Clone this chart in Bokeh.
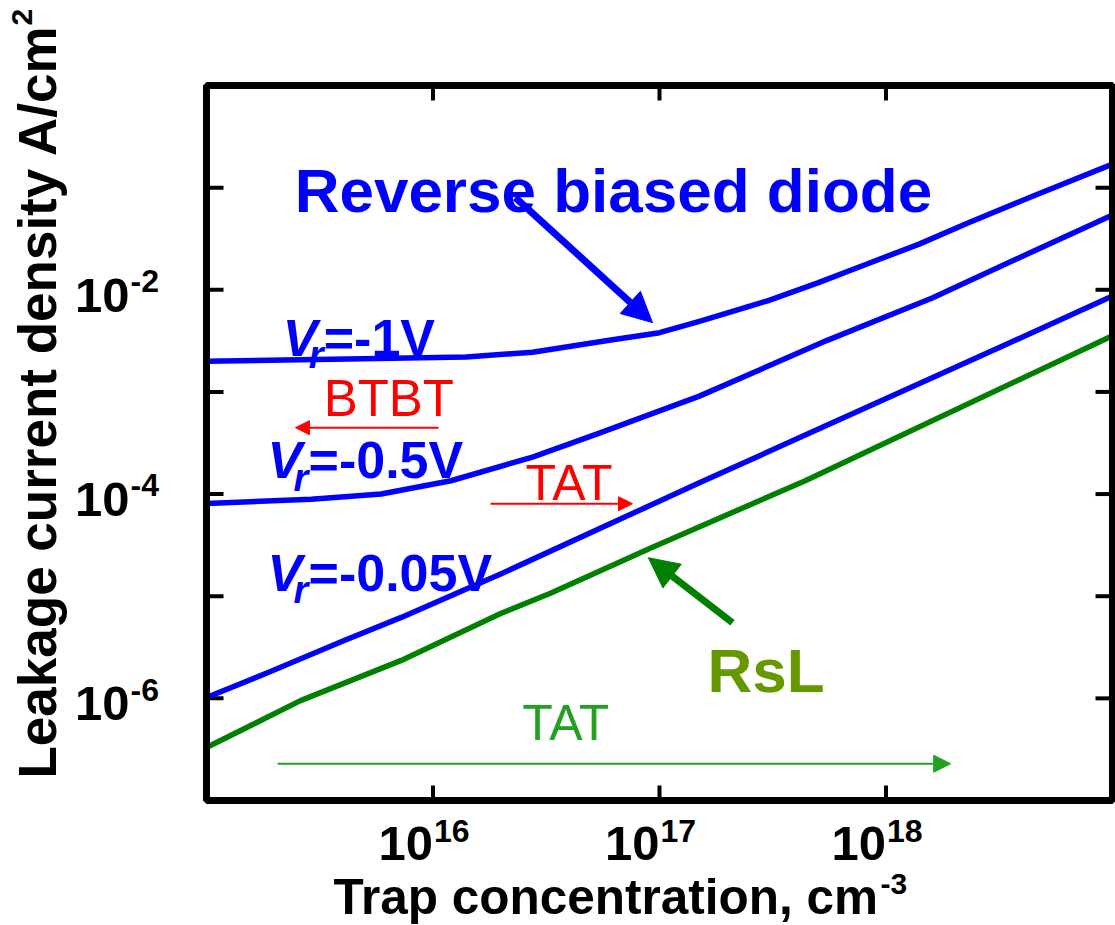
import math
from bokeh.plotting import figure
from bokeh.models import Label, Arrow, NormalHead, Range1d, BoxAnnotation
from bokeh.embed import file_html
from bokeh.resources import INLINE

# ---------------- data ----------------
# Trap concentration (cm^-3) and leakage current density (A/cm^2)
x_vr1 = [1.0e15, 4.2e15, 1.4e16, 2.75e16, 6.0e16, 1.0e17, 1.5e17, 3.0e17, 5.0e17, 8.3e17, 1.4e18, 2.3e18, 4.3e18, 1.0e19]
y_vr1 = [2.0e-3, 2.1e-3, 2.2e-3, 2.45e-3, 3.2e-3, 3.8e-3, 4.9e-3, 7.8e-3, 1.17e-2, 1.8e-2, 2.8e-2, 4.5e-2, 8.0e-2, 1.7e-1]

x_vr05 = [1.0e15, 2.9e15, 5.9e15, 1.2e16, 2.75e16, 5.5e16, 1.5e17, 5.5e17, 1.6e18, 4.5e18, 1.0e19]
y_vr05 = [8.1e-5, 8.9e-5, 1.0e-4, 1.35e-4, 2.3e-4, 4.0e-4, 9.1e-4, 3.2e-3, 8.3e-3, 2.4e-2, 5.4e-2]

x_vr005 = [1.0e15, 1.86e15, 3.98e15, 7.24e15, 2.0e16, 6.5e16, 1.5e17, 3.2e18, 1.0e19]
y_vr005 = [1.02e-6, 1.78e-6, 3.63e-6, 6.2e-6, 1.66e-5, 5.5e-5, 1.29e-4, 2.75e-3, 8.7e-3]

x_rsl = [1.0e15, 2.6e15, 7.2e15, 1.0e16, 2.0e16, 3.3e16, 9.1e16, 4.4e17, 1.0e19]
y_rsl = [3.3e-7, 9.5e-7, 2.34e-6, 3.3e-6, 6.8e-6, 1.07e-5, 2.95e-5, 1.35e-4, 3.55e-3]

x_lim = [1e15, 1e19]
y_lim = [1e-7, 1e0]
x_ticks = [1e16, 1e17, 1e18]
x_tick_exps = ["16", "17", "18"]
y_ticks_all = [1e-6, 1e-5, 1e-4, 1e-3, 1e-2, 1e-1]
y_tick_labeled = [1e-2, 1e-4, 1e-6]
y_tick_exps = ["-2", "-4", "-6"]

x_title = "Trap concentration, cm"
x_title_sup = "-3"
y_title = "Leakage current density A/cm"
y_title_sup = "2"

# ---------------- layout (pixels) ----------------
W, H = 1115, 925
FL, FR, FT, FB = 206, 1112, 85, 800   # plot box edges on the canvas

xdec = (FR - FL) / (math.log10(x_lim[1]) - math.log10(x_lim[0]))
ydec = (FB - FT) / (math.log10(y_lim[1]) - math.log10(y_lim[0]))
x_range = Range1d(10 ** (math.log10(x_lim[0]) - FL / xdec), 10 ** (math.log10(x_lim[1]) + (W - FR) / xdec))
y_range = Range1d(10 ** (math.log10(y_lim[0]) - (H - FB) / ydec), 10 ** (math.log10(y_lim[1]) + FT / ydec))

FONT = "Liberation Sans"
BLUE = "#0000FF"
RED = "#FF0000"
DKGREEN = "#008000"
OLIVE = "#669900"
LTGREEN = "#22A022"

p = figure(width=W, height=H, x_axis_type="log", y_axis_type="log",
           x_range=x_range, y_range=y_range,
           x_axis_location=None, y_axis_location=None,
           output_backend="svg", toolbar_location=None, min_border=0)
p.grid.visible = False
p.outline_line_color = None
p.background_fill_color = "white"
p.border_fill_color = "white"

# plot box
p.add_layout(BoxAnnotation(left=x_lim[0], right=x_lim[1], bottom=y_lim[0], top=y_lim[1],
                           fill_color=None, fill_alpha=0, line_color="black", line_alpha=1.0,
                           line_width=7))

# inward ticks on all four sides
TK = dict(length_units="screen", line_width=4, line_color="black", line_cap="butt")
p.ray(x=[x_lim[0]] * len(y_ticks_all), y=y_ticks_all, length=17, angle=0, **TK)
p.ray(x=[x_lim[1]] * len(y_ticks_all), y=y_ticks_all, length=17, angle=math.pi, **TK)
p.ray(x=x_ticks, y=[y_lim[0]] * len(x_ticks), length=15, angle=math.pi / 2, **TK)
p.ray(x=x_ticks, y=[y_lim[1]] * len(x_ticks), length=15, angle=-math.pi / 2, **TK)

# ---------------- curves ----------------
LW = 5.5
p.line(x_vr1, y_vr1, line_width=LW, line_color=BLUE, line_join="round")
p.line(x_vr05, y_vr05, line_width=LW, line_color=BLUE, line_join="round")
p.line(x_vr005, y_vr005, line_width=LW, line_color=BLUE, line_join="round")
p.line(x_rsl, y_rsl, line_width=LW, line_color=DKGREEN, line_join="round")

def lab(x, y, text, size, color="black", style="bold", xo=0, yo=0, align="left", angle=0.0):
    # yo: offset of the text baseline (positive = up)
    adj = 0.4 * size
    if angle == 0:
        xo2, yo2 = xo, yo + adj
    else:
        xo2, yo2 = xo - adj, yo
    p.add_layout(Label(x=x, y=y, text=text, x_offset=xo2, y_offset=yo2,
                       text_align=align, text_baseline="alphabetic",
                       text_font=FONT, text_font_style=style,
                       text_font_size=f"{size}px", text_color=color, angle=angle))

# tick labels
for v, e in zip(x_ticks, x_tick_exps):
    lab(v, y_lim[0], "10", 49, xo=0, yo=-63, align="right")
    lab(v, y_lim[0], e, 32, xo=1, yo=-43, align="left")
for v, e in zip(y_tick_labeled, y_tick_exps):
    lab(x_lim[0], v, "10", 49, xo=-77, yo=-25, align="right")
    lab(x_lim[0], v, e, 32, xo=-76, yo=-4, align="left")

# axis titles
lab(x_lim[0], y_lim[0], x_title, 49.5, xo=127, yo=-116)
lab(x_lim[0], y_lim[0], x_title_sup, 30, xo=674, yo=-95)
lab(x_lim[0], y_lim[0], y_title, 53, xo=-148, yo=22, angle=math.pi / 2)
lab(x_lim[0], y_lim[0], y_title_sup, 30, xo=-173, yo=775, angle=math.pi / 2)

# ---------------- annotations ----------------
lab(2.45e15, 5.33e-2, "Reverse biased diode", 62, color=BLUE)

vr_anchor_x = [2.17e15, 1.86e15, 1.86e15]
vr_anchor_y = [2.12e-3, 1.35e-4, 1.06e-5]
vr_values = ["=-1V", "=-0.5V", "=-0.05V"]
for ax_, ay_, t in zip(vr_anchor_x, vr_anchor_y, vr_values):
    lab(ax_, ay_, "V", 52, color=BLUE, style="bold italic")
    lab(ax_, ay_, "r", 38, color=BLUE, style="bold italic", xo=26, yo=-12)
    lab(ax_, ay_, t, 52, color=BLUE, xo=41)

lab(3.29e15, 5.47e-4, "BTBT", 51, color=RED, style="normal")
lab(2.56e16, 8.24e-5, "TAT", 50, color=RED, style="normal")
lab(2.48e16, 3.67e-7, "TAT", 50, color=LTGREEN, style="normal")
lab(1.63e17, 1.06e-6, "RsL", 62, color=OLIVE)

def arrow(x0, y0, x1, y1, color, width, head):
    p.add_layout(Arrow(end=NormalHead(size=head, fill_color=color, line_color=color),
                       x_start=x0, y_start=y0, x_end=x1, y_end=y1,
                       line_color=color, line_width=width))

arrow(2.31e16, 8.0e-2, 9.31e16, 4.77e-3, BLUE, 7, 30)
arrow(2.1e17, 5.5e-6, 8.93e16, 2.38e-5, DKGREEN, 7, 30)
arrow(1.057e16, 4.47e-4, 2.47e15, 4.47e-4, RED, 2, 14)
arrow(1.795e16, 8.05e-5, 7.6e16, 8.05e-5, RED, 2, 14)
arrow(2.06e15, 2.29e-7, 1.93e18, 2.29e-7, LTGREEN, 2, 17)

open("out.html", "w").write(file_html(p, INLINE))
